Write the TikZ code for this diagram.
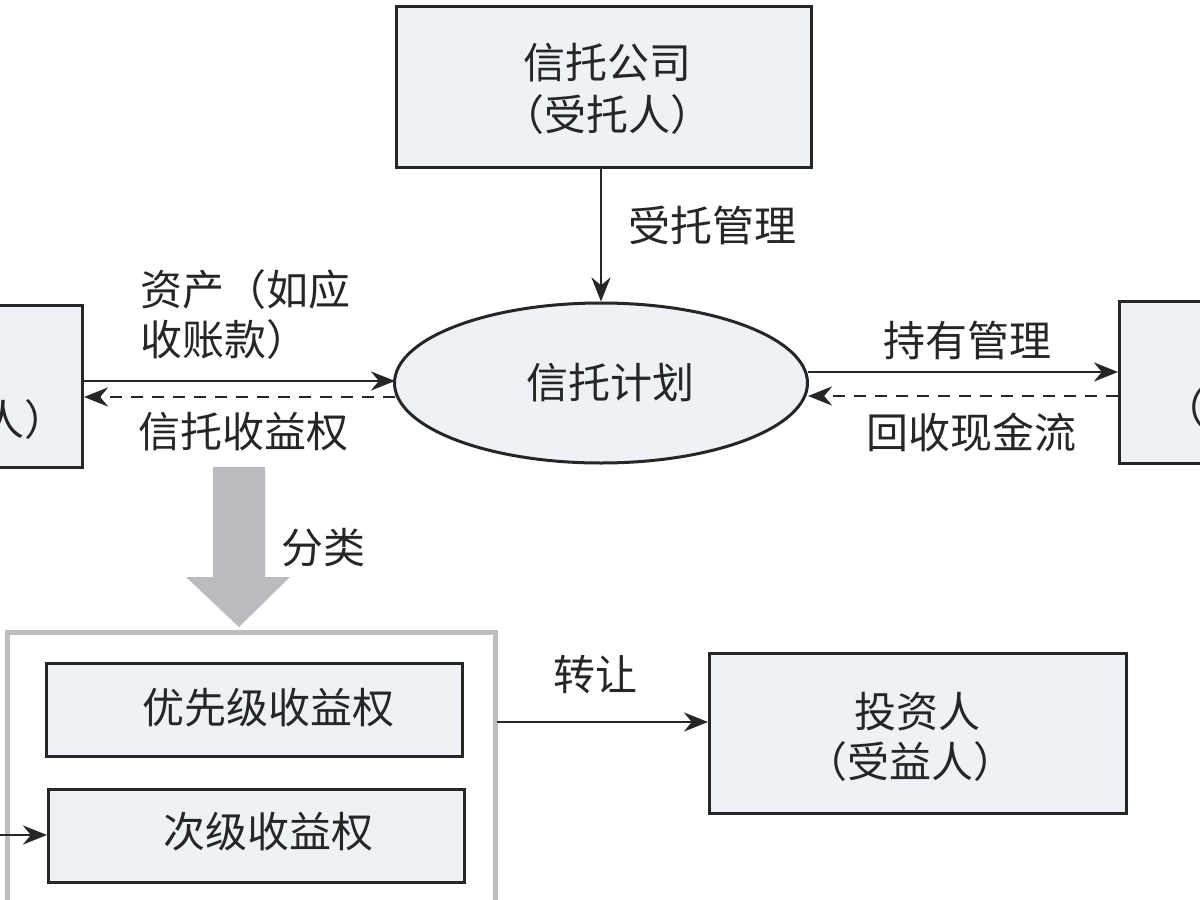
\documentclass[tikz,border=0pt]{standalone}
\usepackage{fontspec}
\setmainfont{Noto Sans CJK SC}
\usetikzlibrary{arrows.meta,shapes.geometric}
\definecolor{boxfill}{HTML}{EEF1F5}
\definecolor{biggrey}{HTML}{B9BBBE}
\definecolor{framegrey}{HTML}{BDBEBF}
\begin{document}
\begin{tikzpicture}[x=1pt,y=-1pt,
  every node/.style={font=\fontsize{42}{50}\selectfont, text=black!85},
  boxnode/.style={draw=black!85, line width=3pt, fill=boxfill},
  conn/.style={draw=black!85, line width=2.8pt, -{Stealth[length=24pt,width=19pt]}},
  dconn/.style={conn, dash pattern=on 12pt off 9pt},
  lbl/.style={inner sep=0pt, anchor=center}
]
\useasboundingbox (0,0) rectangle (1200,900);
\clip (0,0) rectangle (1200,900);
% top box
\node[boxnode, minimum width=415pt, minimum height=161pt, anchor=north west] (company) at (395,5) {};
\node[lbl] (companyA) at (607,63) {信托公司};
\node[lbl] (companyB) at (607,115) {（受托人）};
% ellipse
\node[ellipse, draw=black!85, line width=3pt, fill=boxfill, minimum width=413pt, minimum height=160pt] (plan) at (601,383) {};
\node[lbl] (planT) at (610,383) {信托计划};
% left box (cut)
\node[boxnode, minimum width=400pt, minimum height=162pt, anchor=north east] (left) at (84,304) {};
\node[lbl] (leftT) at (25,420) {人）};
% right box (cut)
\node[boxnode, minimum width=300pt, minimum height=162pt, anchor=north west] (right) at (1118,300) {};
\node[lbl, anchor=west] (rightT) at (1163,408) {（};
% coordinates for arrows
\coordinate (lA) at (84,381);
\coordinate (pA) at (395,381);
\coordinate (lB) at (84,397);
\coordinate (pB) at (395,397);
\coordinate (pC) at (808,372);
\coordinate (rC) at (1118,372);
\coordinate (pD) at (808,396);
\coordinate (rD) at (1118,396);
\draw[conn] (company.south -| plan.north) -- (plan.north);
\draw[conn] (lA) -- (pA);
\draw[dconn] (pB) -- (lB);
\draw[conn] (pC) -- (rC);
\draw[dconn] (rD) -- (pD);
% labels
\node[lbl, anchor=west] (l1) at (628,225) {受托管理};
\node[lbl, anchor=west] (l2) at (140,290) {资产（如应};
\node[lbl, anchor=west] (l3) at (140,340) {收账款）};
\node[lbl, anchor=west] (l4) at (138,432) {信托收益权};
\node[lbl, anchor=west] (l5) at (883,340) {持有管理};
\node[lbl, anchor=west] (l6) at (866,432) {回收现金流};
% big grey arrow
\fill[biggrey] (213,467) -- (265,467) -- (265,577) -- (290,577) -- (239,627) -- (186,577) -- (213,577) -- cycle;
\node[lbl, anchor=west] (l7) at (281,548) {分类};
% outer frame
\draw[framegrey, line width=5pt, fill=white] (7,632) rectangle (495,930);
\node[boxnode, minimum width=416pt, minimum height=93pt, anchor=north west] (senior) at (45,662) {};
\node[lbl] (seniorT) at (268,708) {优先级收益权};
\node[boxnode, minimum width=416pt, minimum height=93pt, anchor=north west] (junior) at (47,788) {};
\node[lbl] (juniorT) at (268,832) {次级收益权};
\coordinate (jin) at (-5,835);
\draw[conn] (jin) -- (junior.west |- jin);
% investor
\node[boxnode, minimum width=417pt, minimum height=160pt, anchor=north west] (inv) at (708,652) {};
\node[lbl] (invA) at (917,712) {投资人};
\node[lbl] (invB) at (910,762) {（受益人）};
\coordinate (fout) at (497,722);
\draw[conn] (fout) -- (inv.west |- fout);
\node[lbl, anchor=west] (l8) at (553,675) {转让};
\end{tikzpicture}
\end{document}
